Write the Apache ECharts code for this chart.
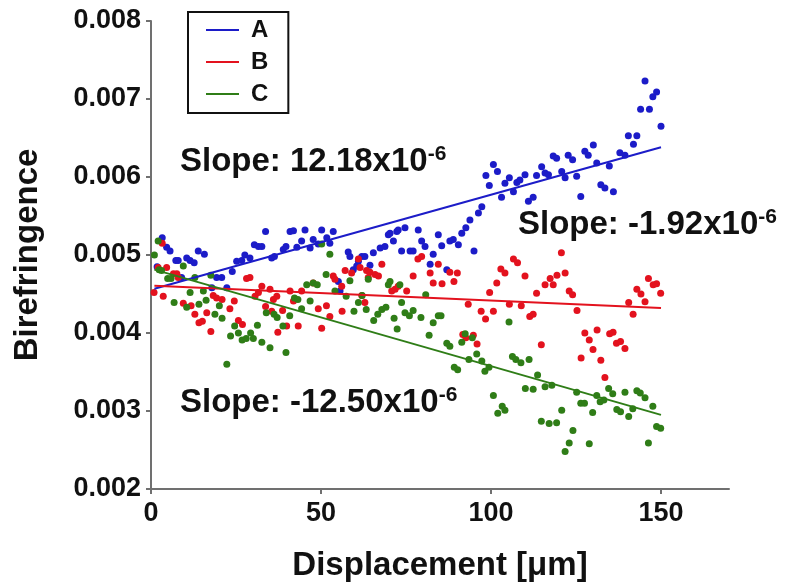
<!DOCTYPE html>
<html>
<head>
<meta charset="utf-8">
<script src="https://cdn.jsdelivr.net/npm/echarts@6/dist/echarts.min.js"></script>
<style>
  html, body { margin: 0; padding: 0; background: #ffffff; }
  #chart { width: 785px; height: 587px; }
</style>
</head>
<body>
<div id="chart"></div>
<script>
// Axis ticks and series names
const xTicks = [0, 50, 100, 150];
const seriesNames = ['A', 'B', 'C'];

// Series A: displacement [um] and birefringence
const aX = [1.8,3.3,4.6,5.6,7.3,8.0,9.0,10.5,11.5,12.7,
  13.9,15.7,17.9,19.3,20.8,22.3,23.9,25.2,26.7,27.6,
  29.1,30.4,31.6,32.6,33.7,35.5,36.3,38.9,39.7,40.9,
  41.9,42.9,44.3,45.3,46.8,47.7,49.2,50.2,51.7,52.6,
  53.6,55.1,55.6,58.0,58.5,59.5,60.5,61.0,62.0,62.9,
  64.4,65.4,67.4,68.8,69.8,70.3,71.3,72.3,72.7,73.7,
  74.7,76.2,77.1,78.6,79.6,80.6,82.1,83.0,84.5,85.5,
  87.0,87.9,88.9,90.4,91.4,92.6,93.8,95.0,96.3,97.3,
  98.5,99.5,100.7,101.9,103.1,104.1,105.4,106.6,107.6,108.5,
  110.0,111.0,112.4,113.4,114.9,115.9,116.9,118.3,119.3,120.8,
  121.8,122.7,124.0,125.2,126.4,127.6,128.6,130.1,131.1,132.3,
  133.5,134.8,136.0,137.9,139.4,140.4,141.9,142.9,144.0,145.3,
  146.6,147.6,148.7,150.0];
const aY = [0.00485,0.00522,0.00510,0.00505,0.00493,0.00493,0.00471,0.00496,0.00493,0.00490,
  0.00505,0.00501,0.00458,0.00471,0.00471,0.00458,0.00479,0.00492,0.00493,0.00500,
  0.00496,0.00513,0.00511,0.00511,0.00530,0.00496,0.00498,0.00507,0.00511,0.00530,
  0.00531,0.00510,0.00518,0.00532,0.00509,0.00520,0.00514,0.00532,0.00522,0.00515,
  0.00530,0.00466,0.00454,0.00504,0.00498,0.00481,0.00486,0.00492,0.00498,0.00498,
  0.00487,0.00503,0.00509,0.00511,0.00526,0.00528,0.00518,0.00530,0.00532,0.00505,
  0.00535,0.00505,0.00505,0.00532,0.00518,0.00511,0.00488,0.00501,0.00526,0.00512,
  0.00481,0.00518,0.00520,0.00513,0.00528,0.00535,0.00545,0.00505,0.00554,0.00562,
  0.00602,0.00589,0.00616,0.00607,0.00574,0.00592,0.00599,0.00581,0.00593,0.00596,
  0.00603,0.00569,0.00574,0.00602,0.00613,0.00605,0.00603,0.00627,0.00624,0.00607,
  0.00599,0.00628,0.00622,0.00601,0.00575,0.00633,0.00628,0.00641,0.00618,0.00590,
  0.00586,0.00614,0.00581,0.00631,0.00628,0.00653,0.00642,0.00653,0.00687,0.00723,
  0.00687,0.00703,0.00709,0.00665];

// Series B
const bX = [0.9,2.1,3.3,3.6,4.6,6.6,7.6,8.0,9.5,11.8,
  12.9,14.1,15.1,16.4,17.6,18.3,19.3,20.9,23.2,24.5,
  25.7,26.9,28.1,29.1,30.6,31.6,32.6,33.7,35.0,35.5,
  36.0,37.0,37.3,38.7,39.9,40.9,41.9,43.3,44.3,47.7,
  49.2,50.2,51.6,52.6,53.6,54.1,56.1,56.2,57.1,59.0,
  61.0,61.5,62.0,62.9,63.4,63.9,64.4,65.9,66.9,67.9,
  70.8,71.8,72.7,75.2,77.1,78.5,79.6,82.1,83.0,84.5,
  85.6,87.9,89.1,90.1,91.7,92.6,93.3,94.8,95.9,97.1,
  98.4,99.6,100.7,101.7,102.9,104.1,105.4,106.6,107.8,108.9,
  110.0,111.4,112.4,113.4,114.8,115.9,117.4,118.3,119.4,120.7,
  121.8,123.0,124.0,125.3,126.5,127.6,128.9,130.0,131.2,132.3,
  133.5,134.9,135.9,136.9,138.1,139.4,140.5,141.8,142.9,144.1,
  145.3,146.3,147.7,148.7,149.9];
const bY = [0.00452,0.00484,0.00515,0.00447,0.00484,0.00476,0.00476,0.00471,0.00438,0.00435,
  0.00424,0.00413,0.00415,0.00426,0.00402,0.00448,0.00445,0.00443,0.00431,0.00441,
  0.00416,0.00411,0.00470,0.00471,0.00447,0.00452,0.00460,0.00434,0.00456,0.00428,
  0.00443,0.00447,0.00401,0.00429,0.00409,0.00454,0.00441,0.00409,0.00454,0.00464,
  0.00431,0.00406,0.00435,0.00421,0.00473,0.00469,0.00460,0.00428,0.00480,0.00477,
  0.00495,0.00484,0.00448,0.00439,0.00480,0.00471,0.00478,0.00475,0.00473,0.00488,
  0.00454,0.00456,0.00460,0.00454,0.00473,0.00495,0.00498,0.00477,0.00464,0.00488,
  0.00463,0.00478,0.00466,0.00477,0.00398,0.00394,0.00437,0.00397,0.00386,0.00428,
  0.00418,0.00452,0.00428,0.00464,0.00482,0.00477,0.00437,0.00495,0.00490,0.00435,
  0.00473,0.00421,0.00424,0.00451,0.00385,0.00462,0.00470,0.00462,0.00474,0.00503,
  0.00477,0.00454,0.00449,0.00429,0.00368,0.00400,0.00391,0.00379,0.00404,0.00365,
  0.00343,0.00399,0.00401,0.00387,0.00389,0.00380,0.00439,0.00424,0.00456,0.00450,
  0.00440,0.00470,0.00462,0.00463,0.00451];

// Series C
const cX = [1.0,2.1,2.4,3.1,4.9,5.9,6.8,9.5,10.5,11.5,
  12.9,14.1,15.4,16.2,17.6,18.8,20.1,20.9,22.3,23.4,
  24.6,25.7,26.8,28.0,29.3,30.1,31.3,32.6,33.9,35.0,
  36.2,37.1,38.8,39.7,40.8,42.2,43.2,44.3,45.8,46.8,
  47.7,48.9,50.2,51.5,52.6,54.1,57.4,58.5,59.7,61.0,
  62.1,63.3,63.9,65.5,66.7,67.9,69.1,69.8,70.3,71.5,
  72.4,73.2,73.7,74.7,76.0,77.1,79.4,80.8,81.8,83.0,
  84.5,85.3,87.0,87.9,89.2,90.2,91.4,92.4,93.5,94.5,
  95.8,97.3,98.2,99.4,100.7,102.0,103.3,104.1,105.3,106.3,
  107.3,108.8,110.1,111.2,112.4,113.7,114.8,115.9,117.1,117.9,
  119.3,120.8,121.8,123.0,124.1,125.2,126.4,127.5,128.9,129.9,
  131.1,132.1,133.2,134.6,135.8,137.0,138.1,139.4,140.5,141.7,
  142.9,143.9,145.3,146.3,147.6,148.7,149.9];
const cY = [0.00500,0.00518,0.00481,0.00480,0.00470,0.00470,0.00439,0.00486,0.00433,0.00452,
  0.00471,0.00437,0.00454,0.00442,0.00474,0.00424,0.00435,0.00419,0.00360,0.00396,
  0.00409,0.00400,0.00391,0.00393,0.00400,0.00393,0.00410,0.00388,0.00426,0.00381,
  0.00424,0.00420,0.00409,0.00375,0.00422,0.00445,0.00443,0.00431,0.00462,0.00441,
  0.00464,0.00462,0.00514,0.00475,0.00501,0.00454,0.00447,0.00467,0.00428,0.00439,
  0.00448,0.00430,0.00469,0.00416,0.00424,0.00430,0.00433,0.00462,0.00466,0.00419,
  0.00405,0.00462,0.00439,0.00426,0.00422,0.00429,0.00420,0.00449,0.00397,0.00413,
  0.00422,0.00422,0.00387,0.00383,0.00356,0.00353,0.00388,0.00399,0.00366,0.00394,
  0.00373,0.00364,0.00351,0.00356,0.00320,0.00297,0.00306,0.00301,0.00414,0.00370,
  0.00366,0.00362,0.00329,0.00366,0.00328,0.00346,0.00287,0.00331,0.00284,0.00333,
  0.00285,0.00301,0.00248,0.00259,0.00275,0.00324,0.00310,0.00310,0.00258,0.00298,
  0.00320,0.00312,0.00314,0.00329,0.00322,0.00302,0.00299,0.00324,0.00293,0.00303,
  0.00326,0.00323,0.00317,0.00259,0.00306,0.00280,0.00278];

// Linear fits: slope per um (as printed) and intercept at zero displacement
const fitSlopes = [12.18e-6, -1.92e-6, -12.50e-6];
const fitIntercepts = [0.004555, 0.004607, 0.004825];
const fitRange = [1, 150];

const colors = ['#1c1cc8', '#e3121e', '#2f7d17'];
const FONT = '"Liberation Sans", Arial, Helvetica, sans-serif';
const INK = '#111111';
const AXIS_GREY = '#707070';

const zip = (xs, ys) => xs.map((x, i) => [x, ys[i]]);
const pointSets = [zip(aX, aY), zip(bX, bY), zip(cX, cY)];

const scatterSeries = pointSets.map((pts, i) => ({
  name: seriesNames[i],
  type: 'scatter',
  data: pts,
  symbol: 'circle',
  symbolSize: 7,
  itemStyle: { color: colors[i], opacity: 1 },
  emphasis: { disabled: true },
  z: 2
}));

const fitSeries = fitSlopes.map((m, i) => ({
  name: seriesNames[i],
  type: 'line',
  data: fitRange.map(x => [x, fitIntercepts[i] + m * x]),
  showSymbol: false,
  symbol: 'none',
  lineStyle: { color: colors[i], width: 2 },
  itemStyle: { color: colors[i] },
  emphasis: { disabled: true },
  silent: true,
  z: 4
}));

// Slope annotations, text taken from the fitted slopes
const slopeLabelPos = [[180, 144], [518, 207], [180, 385]];
const slopeText = m => `{m|Slope: ${(m * 1e6).toFixed(2)}x10}{s|-6}`;
const graphics = fitSlopes.map((m, i) => ({
  type: 'text',
  x: slopeLabelPos[i][0],
  y: slopeLabelPos[i][1],
  z: 10,
  style: {
    text: slopeText(m),
    rich: {
      m: { fontFamily: FONT, fontWeight: 'bold', fontSize: 33, fill: INK, lineHeight: 36 },
      s: { fontFamily: FONT, fontWeight: 'bold', fontSize: 21, fill: INK, lineHeight: 21, verticalAlign: 'top' }
    }
  }
}));

const chart = echarts.init(document.getElementById('chart'), null, { renderer: 'canvas' });
chart.setOption({
  backgroundColor: '#ffffff',
  animation: false,
  grid: { left: 151, right: 56, top: 21, bottom: 97, containLabel: false },
  legend: {
    data: seriesNames,
    orient: 'vertical',
    left: 188,
    top: 12,
    icon: 'rect',
    itemWidth: 33,
    itemHeight: 2,
    itemGap: 6,
    padding: [5, 20, 6, 18],
    borderColor: INK,
    borderWidth: 2,
    selectedMode: false,
    textStyle: { fontFamily: FONT, fontWeight: 'bold', fontSize: 24, color: INK, lineHeight: 26, padding: [0, 0, 0, 7] }
  },
  xAxis: {
    type: 'value',
    min: 0,
    max: 170,
    interval: 50,
    name: 'Displacement [μm]',
    nameLocation: 'middle',
    nameGap: 60,
    nameTextStyle: { fontFamily: FONT, fontWeight: 'bold', fontSize: 33, color: INK },
    axisLine: { show: true, onZero: false, lineStyle: { color: AXIS_GREY, width: 2 } },
    axisTick: { show: true, length: 5, customValues: xTicks, lineStyle: { color: AXIS_GREY, width: 2 } },
    axisLabel: { customValues: xTicks, margin: 11, fontFamily: FONT, fontWeight: 'bold', fontSize: 27, color: INK },
    splitLine: { show: false }
  },
  yAxis: {
    type: 'value',
    min: 0.002,
    max: 0.008,
    interval: 0.001,
    name: 'Birefringence',
    nameLocation: 'middle',
    nameGap: 107,
    nameRotate: 90,
    nameTextStyle: { fontFamily: FONT, fontWeight: 'bold', fontSize: 33, color: INK },
    axisLine: { show: true, onZero: false, lineStyle: { color: AXIS_GREY, width: 2 } },
    axisTick: { show: true, length: 5, lineStyle: { color: AXIS_GREY, width: 2 } },
    axisLabel: { margin: 10, fontFamily: FONT, fontWeight: 'bold', fontSize: 27, color: INK,
      formatter: v => v.toFixed(3) },
    splitLine: { show: false }
  },
  series: [...scatterSeries, ...fitSeries],
  graphic: graphics
});
</script>
</body>
</html>
